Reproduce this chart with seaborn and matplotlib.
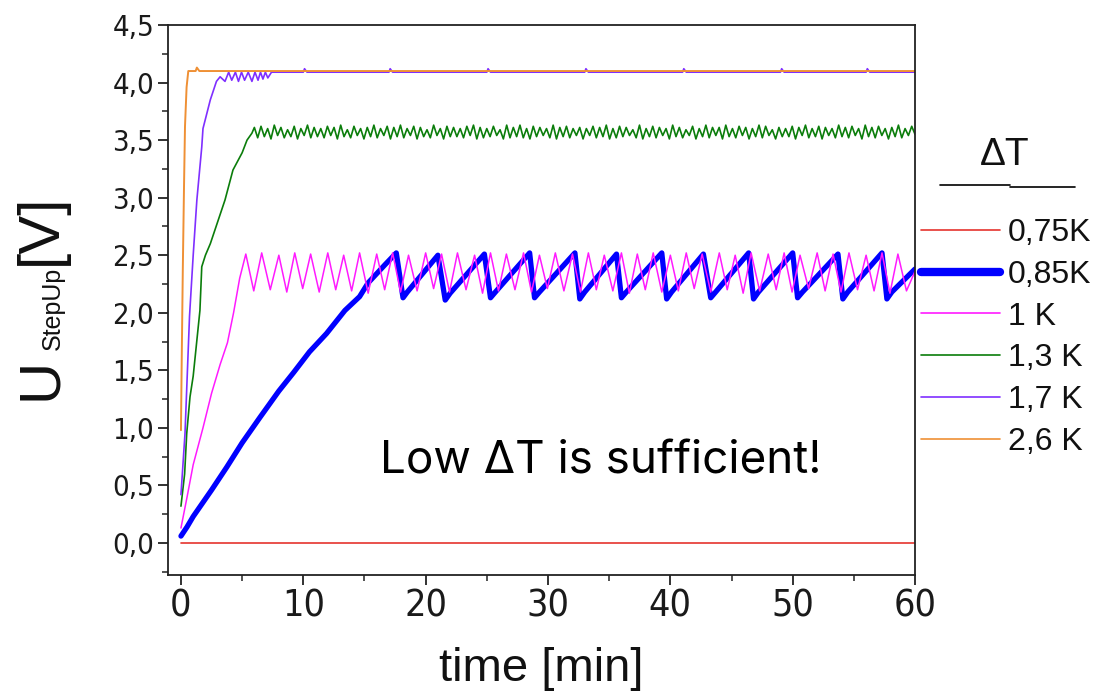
import numpy as np
import pandas as pd
import seaborn as sns
import matplotlib.pyplot as plt
from matplotlib.ticker import MultipleLocator, FuncFormatter
from matplotlib.lines import Line2D

# time [min] / U_StepUp [V], one pair of lists per dT
t_075 = [0.0, 60.0]
u_075 = [0.0, 0.0]

t_085 = [0.0, 0.5, 1.0, 2.5, 3.75, 5.0, 6.45, 8.0, 9.2, 10.5, 11.9, 13.4, 14.6, 15.3, 16.7, 17.6,
         18.15, 18.5, 21.0, 21.6, 22.0, 24.8, 25.3, 25.7, 28.5, 28.9, 29.3, 32.2,
         32.6, 33.0, 35.6, 36.0, 36.4, 39.3, 39.7, 40.1, 42.7, 43.3, 43.7, 46.4,
         46.8, 47.2, 50.0, 50.4, 50.8, 53.7, 54.1, 54.5, 57.3, 57.7, 58.1, 60.0]
u_085 = [0.06, 0.14, 0.23, 0.46, 0.66, 0.87, 1.09, 1.32, 1.48, 1.66, 1.82, 2.02, 2.14, 2.26, 2.42, 2.52,
         2.13, 2.18, 2.50, 2.11, 2.17, 2.51, 2.13, 2.18, 2.52, 2.13, 2.18, 2.52,
         2.12, 2.18, 2.51, 2.13, 2.18, 2.52, 2.12, 2.18, 2.51, 2.13, 2.18, 2.52,
         2.12, 2.18, 2.52, 2.13, 2.18, 2.51, 2.12, 2.18, 2.52, 2.12, 2.18, 2.38]

t_100 = [0.0, 0.5, 1.0, 1.8, 2.5, 3.2, 3.8, 4.3, 4.8,
         5.3, 5.95, 6.6, 7.3, 8.0, 8.65, 9.3, 9.95, 10.6, 11.3,
         12.0, 12.65, 13.3, 13.95, 14.6, 15.3, 16.0, 16.65, 17.3, 17.95,
         18.6, 19.3, 20.0, 20.65, 21.3, 21.95, 22.6, 23.3, 24.0, 24.65,
         25.3, 25.95, 26.6, 27.3, 28.0, 28.65, 29.3, 29.95, 30.6, 31.3,
         32.0, 32.65, 33.3, 33.95, 34.6, 35.3, 36.0, 36.65, 37.3, 37.95,
         38.6, 39.3, 40.0, 40.65, 41.3, 41.95, 42.6, 43.3, 44.0, 44.65,
         45.3, 45.95, 46.6, 47.3, 48.0, 48.65, 49.3, 49.95, 50.6, 51.3,
         52.0, 52.65, 53.3, 53.95, 54.6, 55.3, 56.0, 56.65, 57.3, 57.95,
         58.6, 59.3, 60.0]
u_100 = [0.13, 0.40, 0.68, 1.00, 1.30, 1.55, 1.74, 2.00, 2.30,
         2.51, 2.19, 2.52, 2.20, 2.50, 2.18, 2.52, 2.21, 2.51, 2.18,
         2.52, 2.20, 2.50, 2.19, 2.52, 2.17, 2.51, 2.20, 2.52, 2.18,
         2.50, 2.19, 2.52, 2.21, 2.51, 2.18, 2.52, 2.20, 2.50, 2.17,
         2.52, 2.19, 2.51, 2.20, 2.52, 2.18, 2.50, 2.21, 2.52, 2.19,
         2.51, 2.18, 2.52, 2.20, 2.50, 2.19, 2.52, 2.17, 2.51, 2.20,
         2.52, 2.18, 2.50, 2.19, 2.52, 2.21, 2.51, 2.18, 2.52, 2.20,
         2.50, 2.17, 2.52, 2.19, 2.51, 2.20, 2.52, 2.18, 2.50, 2.21,
         2.52, 2.19, 2.51, 2.18, 2.52, 2.20, 2.50, 2.19, 2.52, 2.17,
         2.51, 2.19, 2.36]

t_130_rise = [0.0, 0.3, 0.47, 0.74, 1.0, 1.55, 1.7, 2.0, 2.4, 3.0, 3.6, 4.25, 5.0, 5.4, 5.8]
u_130_rise = [0.32, 0.60, 0.95, 1.27, 1.45, 2.02, 2.40, 2.50, 2.60, 2.79, 2.98, 3.24, 3.39, 3.50, 3.56]
# plateau, sampled evenly from 6 to 60 min
u_130_tail = [3.61, 3.52, 3.62, 3.53, 3.60, 3.51, 3.63, 3.54, 3.61, 3.52, 3.59, 3.53, 3.62, 3.51, 3.60, 3.54, 3.63, 3.52, 3.61, 3.53,
              3.60, 3.52, 3.62, 3.54, 3.61, 3.51, 3.63, 3.53, 3.59, 3.52, 3.62, 3.54, 3.60, 3.51, 3.61, 3.53, 3.63, 3.52, 3.60, 3.54,
              3.62, 3.51, 3.61, 3.53, 3.63, 3.52, 3.60, 3.54, 3.62, 3.51, 3.61, 3.53, 3.59, 3.52, 3.63, 3.54, 3.60, 3.51, 3.62, 3.53,
              3.61, 3.53, 3.60, 3.52, 3.62, 3.54, 3.63, 3.51, 3.61, 3.52, 3.60, 3.53, 3.62, 3.54, 3.59, 3.51, 3.63, 3.52, 3.61, 3.53,
              3.63, 3.52, 3.60, 3.51, 3.62, 3.53, 3.61, 3.54, 3.60, 3.52, 3.63, 3.51, 3.61, 3.53, 3.62, 3.52, 3.60, 3.54, 3.61, 3.51,
              3.60, 3.54, 3.62, 3.52, 3.61, 3.53, 3.63, 3.51, 3.60, 3.52, 3.62, 3.53, 3.61, 3.54, 3.59, 3.52, 3.63, 3.51, 3.60, 3.53,
              3.62, 3.52, 3.61, 3.54, 3.60, 3.51, 3.63, 3.53, 3.61, 3.52, 3.59, 3.54, 3.62, 3.51, 3.60, 3.53, 3.63, 3.52, 3.61, 3.54,
              3.61, 3.51, 3.63, 3.53, 3.60, 3.52, 3.62, 3.54, 3.61, 3.51, 3.60, 3.53, 3.63, 3.52, 3.62, 3.54, 3.59, 3.51, 3.61, 3.53,
              3.60, 3.53, 3.62, 3.51, 3.61, 3.54, 3.63, 3.52, 3.60, 3.53, 3.62, 3.51, 3.61, 3.54, 3.60, 3.52, 3.63, 3.53, 3.61, 3.52,
              3.62, 3.54, 3.60, 3.51, 3.63, 3.53, 3.61, 3.52, 3.62, 3.54, 3.60, 3.51, 3.61, 3.53, 3.63, 3.52, 3.60, 3.54, 3.62, 3.55]

t_170 = [0.0, 0.33, 0.7, 1.0, 1.3, 1.7, 1.8, 2.4, 2.9, 3.2, 3.6, 3.9, 4.15, 4.45, 4.7, 4.95,
         5.2, 5.5, 5.8, 6.05, 6.3, 6.5, 6.7, 6.9, 7.1, 7.4, 10.0, 10.1, 10.3, 17.0, 17.1, 17.3,
         25.0, 25.1, 25.3, 33.0, 33.1, 33.3, 41.0, 41.1, 41.3, 49.0, 49.1, 49.3, 56.0, 56.1, 56.3, 60.0]
u_170 = [0.42, 0.95, 1.97, 2.50, 2.98, 3.44, 3.60, 3.85, 4.01, 4.05, 4.01, 4.09, 4.02, 4.09, 4.01, 4.09,
         4.02, 4.09, 4.01, 4.09, 4.02, 4.09, 4.03, 4.09, 4.04, 4.09, 4.09, 4.12, 4.09, 4.09, 4.12, 4.09,
         4.09, 4.12, 4.09, 4.09, 4.12, 4.09, 4.09, 4.12, 4.09, 4.09, 4.12, 4.09, 4.09, 4.12, 4.09, 4.09]

t_260 = [0.0, 0.05, 0.15, 0.25, 0.33, 0.46, 0.6, 1.2, 1.3, 1.5, 60.0]
u_260 = [0.98, 1.48, 2.37, 3.10, 3.62, 3.96, 4.10, 4.10, 4.13, 4.10, 4.10]

labels = ['0,75K', '0,85K', '1 K', '1,3 K', '1,7 K', '2,6 K']
colors = ['#e5332e', '#0000ff', '#ff1aff', '#0b7d0b', '#7f2fff', '#ef9035']
widths = [1.2, 3.8, 1.1, 1.2, 1.2, 1.4]

t_130 = t_130_rise + list(np.linspace(6.0, 60.0, len(u_130_tail)))
u_130 = u_130_rise + u_130_tail
series = [(t_075, u_075), (t_085, u_085), (t_100, u_100),
          (t_130, u_130), (t_170, u_170), (t_260, u_260)]

sns.set_style('ticks')
plt.rcParams['font.family'] = ['Liberation Sans', 'DejaVu Sans']
plt.rcParams['text.color'] = '#111111'
plt.rcParams['xtick.color'] = '#222222'
plt.rcParams['ytick.color'] = '#222222'

fig = plt.figure(figsize=(11.14, 6.94), dpi=100)
ax = fig.add_axes([0.1508, 0.1715, 0.6706, 0.7925])

for (t, u), lab, c, w in zip(series, labels, colors, widths):
    df = pd.DataFrame({'time': t, 'U': u})
    sns.lineplot(data=df, x='time', y='U', ax=ax, color=c, lw=w,
                 estimator=None, sort=False, legend=False)

ax.set_xlim(-1.06, 60)
ax.set_ylim(-0.278, 4.5)
ax.xaxis.set_major_locator(MultipleLocator(10))
ax.xaxis.set_minor_locator(MultipleLocator(5))
ax.yaxis.set_major_locator(MultipleLocator(0.5))
ax.yaxis.set_minor_locator(MultipleLocator(0.25))
ax.yaxis.set_major_formatter(FuncFormatter(lambda v, p: f'{v:.1f}'.replace('.', ',')))
ax.xaxis.set_major_formatter(FuncFormatter(lambda v, p: f'{v:.0f}'))
ax.tick_params(which='major', direction='out', length=7, width=1.3, pad=3)
ax.tick_params(which='minor', direction='out', length=4.5, width=1.1)
ax.tick_params(axis='y', labelsize=21, labelcolor='#1a1a1a')
ax.tick_params(axis='x', labelsize=27, labelcolor='#1a1a1a')
for lbl in ax.get_xticklabels() + ax.get_yticklabels():
    lbl.set_family('DejaVu Sans')
    lbl.set_fontstretch('condensed')
for s in ax.spines.values():
    s.set_linewidth(1.3)
    s.set_color('#222222')
ax.set_xlabel('')
ax.set_ylabel('')

# axis titles
fig.text(0.4861, 1 - 681 / 694, 'time [min]', ha='center', va='baseline', fontsize=34)
ylab = dict(rotation=90, rotation_mode='anchor', ha='left', va='baseline')
fig.text(56 / 1114, 1 - 400 / 694, 'U', fontsize=42, **ylab)
fig.text(60 / 1114, 1 - 350 / 694, 'StepUp', fontsize=18, **ylab)
fig.text(56 / 1114, 1 - 265 / 694, '[V]', fontsize=42, **ylab)

fig.text(380 / 1114, 1 - 474 / 694, 'Low ΔT is sufficient!', fontsize=33,
         family=['Inter', 'DejaVu Sans'], va='baseline', color='black')

# legend outside the axes, with its own underlined title
handles = [Line2D([], [], color=c, lw=(6 if w > 2 else 1.2)) for c, w in zip(colors, widths)]
fig.legend(handles, labels, loc='upper left', bbox_to_anchor=(921 / 1114, 1 - 218 / 694),
           frameon=False, fontsize=23, handlelength=2.47, handletextpad=0.25,
           labelspacing=0.37, borderpad=0, borderaxespad=0)
fig.text(1005 / 1114, 1 - 155 / 694, 'ΔT', ha='center', va='center', fontsize=28)
fig.add_artist(Line2D([940 / 1114, 1010 / 1114], [1 - 185 / 694] * 2, transform=fig.transFigure, color='black', lw=1.2))
fig.add_artist(Line2D([1010 / 1114, 1075 / 1114], [1 - 187 / 694] * 2, transform=fig.transFigure, color='black', lw=1.2))

fig.savefig('out.png', dpi=100)
